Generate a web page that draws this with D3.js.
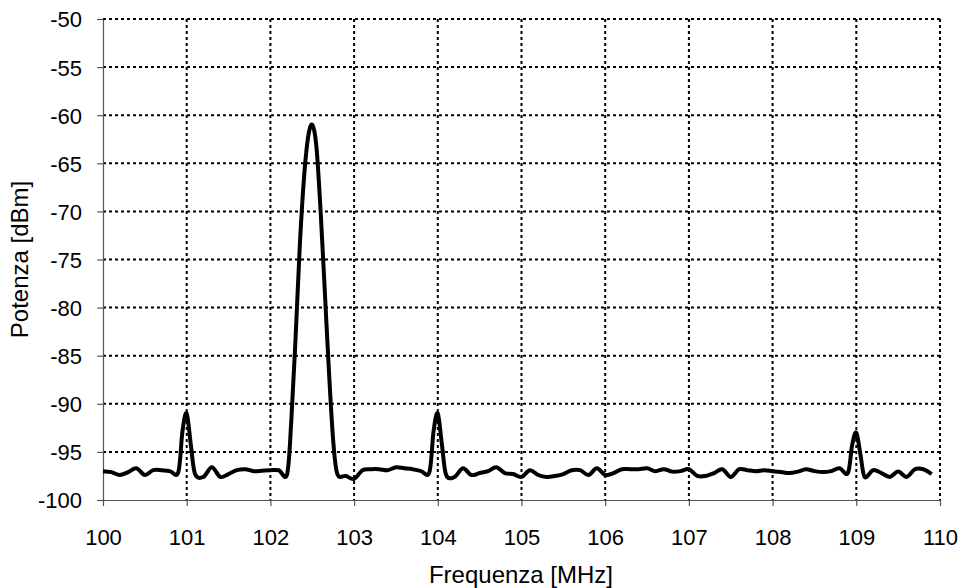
<!DOCTYPE html>
<html>
<head>
<meta charset="utf-8">
<script src="https://cdn.jsdelivr.net/npm/d3@7"></script>
<style>
  html, body { margin: 0; padding: 0; background: #fff; }
  svg { display: block; }
  text { font-family: "Liberation Sans", Arial, sans-serif; }
</style>
</head>
<body>
<svg id="chart" width="961" height="588"></svg>
<script>
// ---- data ----
const frequencies = [
  100.0,100.1,100.2,100.3,100.4,100.5,100.6,100.7,100.8,100.9,
  100.95,101.0,101.05,101.1,101.2,101.3,101.4,101.5,101.6,101.7,101.8,101.9,
  102.0,102.1,102.2,102.25,102.3,102.35,102.4,102.45,102.5,102.55,102.6,102.65,102.7,102.75,102.8,102.9,
  103.0,103.1,103.2,103.3,103.4,103.5,103.6,103.7,103.8,103.9,
  103.95,104.0,104.05,104.1,104.2,104.3,104.4,104.5,104.6,104.7,104.8,104.9,
  105.0,105.1,105.2,105.3,105.4,105.5,105.6,105.7,105.8,105.9,
  106.0,106.1,106.2,106.3,106.4,106.5,106.6,106.7,106.8,106.9,
  107.0,107.1,107.2,107.3,107.4,107.5,107.6,107.7,107.8,107.9,
  108.0,108.1,108.2,108.3,108.4,108.5,108.6,108.7,108.8,108.9,
  108.95,109.0,109.05,109.1,109.2,109.3,109.4,109.5,109.6,109.7,109.8,109.9
];
const powerDbm = [
  -97.0,-97.1,-97.4,-97.1,-96.7,-97.4,-96.9,-96.9,-97.0,-97.1,
  -92.8,-91.0,-94.3,-97.3,-97.6,-96.6,-97.6,-97.3,-96.9,-96.8,-97.0,-96.95,
  -96.9,-96.9,-97.3,-91.7,-83.3,-73.8,-66.7,-62.3,-61.0,-63.3,-70.0,-78.3,-86.7,-93.8,-97.3,-97.5,
  -97.8,-96.9,-96.8,-96.8,-96.9,-96.6,-96.7,-96.8,-97.0,-97.1,
  -92.8,-91.0,-94.3,-97.4,-97.6,-96.7,-97.4,-97.2,-97.0,-96.6,-97.2,-97.3,
  -97.6,-96.9,-97.4,-97.6,-97.5,-97.3,-96.9,-96.9,-97.4,-96.7,
  -97.4,-97.2,-96.8,-96.8,-96.8,-96.7,-97.0,-96.8,-97.05,-97.0,
  -96.8,-97.5,-97.5,-97.2,-96.8,-97.6,-96.8,-96.9,-97.0,-96.9,
  -97.0,-97.1,-97.2,-97.05,-96.8,-97.0,-97.1,-97.0,-96.7,-97.2,
  -94.3,-93.0,-95.3,-97.6,-96.9,-97.2,-97.6,-97.05,-97.6,-96.8,-96.8,-97.3
];
const xTicks = [100,101,102,103,104,105,106,107,108,109,110];
const yTicks = [-100,-95,-90,-85,-80,-75,-70,-65,-60,-55,-50];
const xTitle = "Frequenza [MHz]";
const yTitle = "Potenza [dBm]";

// ---- layout ----
const svg = d3.select("#chart");
const mLeft = 103, mRight = 940, mTop = 19, mBottom = 500;
const tickFont = 22, titleFont = 24;

const x = d3.scaleLinear().domain([100, 110]).range([mLeft, mRight]);
const y = d3.scaleLinear().domain([-100, -50]).range([mBottom, mTop]);

// grid (dotted)
const grid = svg.append("g");
grid.selectAll("line.vx").data(xTicks.filter(d => d > 100)).enter().append("line")
  .attr("x1", d => x(d)).attr("x2", d => x(d))
  .attr("y1", mTop).attr("y2", mBottom)
  .attr("stroke", "#000").attr("stroke-width", 2).attr("stroke-dasharray", "3,3");
grid.selectAll("line.hy").data(yTicks.filter(d => d > -100)).enter().append("line")
  .attr("x1", mLeft).attr("x2", mRight)
  .attr("y1", d => y(d)).attr("y2", d => y(d))
  .attr("stroke", "#000").attr("stroke-width", 2).attr("stroke-dasharray", "3,3");

// axes
const fmt = d => String(d);
const xAxis = d3.axisBottom(x).tickValues(xTicks).tickFormat(fmt).tickSize(6).tickSizeOuter(0);
const yAxis = d3.axisLeft(y).tickValues(yTicks).tickFormat(fmt).tickSize(6).tickSizeOuter(0);

const gx = svg.append("g").attr("transform", `translate(0,${mBottom})`).call(xAxis);
const gy = svg.append("g").attr("transform", `translate(${mLeft},0)`).call(yAxis);
[gx, gy].forEach(g => {
  g.select(".domain").attr("stroke", "#555").attr("stroke-width", 1.2);
  g.selectAll(".tick line").attr("stroke", "#555").attr("stroke-width", 1.2);
  g.selectAll(".tick text").attr("fill", "#000").attr("font-size", tickFont)
    .attr("font-family", "'Liberation Sans', Arial, sans-serif");
});
gx.selectAll(".tick text").attr("y", 45).attr("dy", 0);
gy.selectAll(".tick text").attr("x", -21).attr("dy", "0.36em");

// line
const pts = frequencies.map((f, i) => [f, powerDbm[i]]);
const line = d3.line().x(d => x(d[0])).y(d => y(d[1])).curve(d3.curveCatmullRom.alpha(0));
svg.append("path").datum(pts).attr("d", line)
  .attr("fill", "none").attr("stroke", "#000").attr("stroke-width", 4)
  .attr("stroke-linejoin", "round");

// titles
svg.append("text").attr("x", 521).attr("y", 583)
  .attr("text-anchor", "middle").attr("font-size", titleFont).text(xTitle);
svg.append("text").attr("transform", `translate(28,${(mTop + mBottom) / 2}) rotate(-90)`)
  .attr("text-anchor", "middle").attr("font-size", titleFont).text(yTitle);
</script>
</body>
</html>
